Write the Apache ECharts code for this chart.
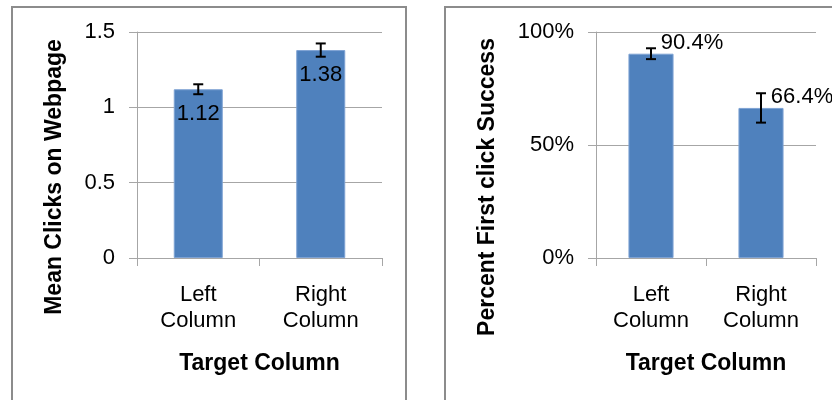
<!DOCTYPE html>
<html>
<head>
<meta charset="utf-8">
<script src="https://cdn.jsdelivr.net/npm/echarts@6/dist/echarts.min.js"></script>
<style>
html,body{margin:0;padding:0;background:#fff;}
#chart{width:832px;height:400px;}
</style>
</head>
<body>
<div id="chart"></div>
<script>
// ---- data ----
var categories = ['Left\nColumn', 'Right\nColumn'];
var clicksMean = [1.12, 1.38];
var clicksErr = [0.033, 0.044];
var successPct = [90.4, 66.4];
var successErr = [2.4, 6.5];
var clicksAxis = { min: 0, max: 1.5, interval: 0.5 };
var pctAxis = { min: 0, max: 100, interval: 50 };
var clicksTitle = 'Mean Clicks on Webpage';
var pctTitle = 'Percent First click Success';
var xTitle = 'Target Column';

// ---- styles ----
var FONT = '"Liberation Sans", Arial, sans-serif';
var TXT = '#000';
var BAR = '#4f81bd';
var GRID = '#a6a6a6';

function errData(vals, errs) {
  return vals.map(function (v, i) { return [i, v - errs[i], v + errs[i]]; });
}

function errRender(params, api) {
  var x = api.value(0);
  var lo = api.coord([x, api.value(1)]);
  var hi = api.coord([x, api.value(2)]);
  var half = 5;
  var st = { stroke: '#000', lineWidth: 2 };
  return {
    type: 'group',
    children: [
      { type: 'line', shape: { x1: hi[0], y1: hi[1], x2: lo[0], y2: lo[1] }, style: st },
      { type: 'line', shape: { x1: hi[0] - half, y1: hi[1], x2: hi[0] + half, y2: hi[1] }, style: st },
      { type: 'line', shape: { x1: lo[0] - half, y1: lo[1], x2: lo[0] + half, y2: lo[1] }, style: st }
    ]
  };
}

function xAxisCfg(gi) {
  return {
    type: 'category', gridIndex: gi, data: categories,
    name: xTitle, nameLocation: 'middle', nameGap: 94,
    nameTextStyle: { fontFamily: FONT, fontSize: 23, fontWeight: 'bold', color: TXT },
    axisLine: { lineStyle: { color: GRID, width: 1 } },
    axisTick: { show: true, length: 8, lineStyle: { color: GRID } },
    axisLabel: { fontFamily: FONT, fontSize: 22, color: TXT, margin: 24, lineHeight: 26 },
    splitLine: { show: false }
  };
}

function yAxisCfg(gi, ax, fmt) {
  return {
    type: 'value', gridIndex: gi, min: ax.min, max: ax.max, interval: ax.interval,
    axisLine: { show: true, lineStyle: { color: GRID, width: 1 } },
    axisTick: { show: true, length: 8, lineStyle: { color: GRID } },
    axisLabel: { fontFamily: FONT, fontSize: 22, color: TXT, margin: 22, formatter: fmt },
    splitLine: { show: true, lineStyle: { color: GRID, width: 1 } }
  };
}

var chart = echarts.init(document.getElementById('chart'), null, { renderer: 'canvas' });
chart.setOption({
  animation: false,
  backgroundColor: '#fff',
  grid: [
    { left: 137, right: 450, top: 32, bottom: 142 },
    { left: 596, right: 16, top: 32, bottom: 142 }
  ],
  xAxis: [xAxisCfg(0), xAxisCfg(1)],
  yAxis: [
    yAxisCfg(0, clicksAxis, function (v) { return String(v); }),
    yAxisCfg(1, pctAxis, function (v) { return v + '%'; })
  ],
  graphic: [
    { type: 'rect', shape: { x: 12, y: 7, width: 394, height: 400 }, style: { fill: 'none', stroke: '#8c8c8c', lineWidth: 2 }, z: -1 },
    { type: 'rect', shape: { x: 445, y: 7, width: 400, height: 400 }, style: { fill: 'none', stroke: '#8c8c8c', lineWidth: 2 }, z: -1 },
    { type: 'text', x: 55, y: 177, rotation: Math.PI / 2,
      style: { text: clicksTitle, fontFamily: FONT, fontSize: 23, fontWeight: 'bold', fill: TXT, textAlign: 'center', textVerticalAlign: 'middle' } },
    { type: 'text', x: 488, y: 187, rotation: Math.PI / 2,
      style: { text: pctTitle, fontFamily: FONT, fontSize: 23, fontWeight: 'bold', fill: TXT, textAlign: 'center', textVerticalAlign: 'middle' } }
  ],
  series: [
    {
      type: 'bar', xAxisIndex: 0, yAxisIndex: 0, data: clicksMean, barWidth: '40%',
      itemStyle: { color: BAR, borderColor: '#7ea2d3', borderWidth: 1 },
      label: { show: true, position: 'insideTop', distance: 14, fontFamily: FONT, fontSize: 22, color: TXT,
        formatter: function (p) { return p.value.toFixed(2); } }
    },
    {
      type: 'custom', xAxisIndex: 0, yAxisIndex: 0, data: errData(clicksMean, clicksErr),
      renderItem: errRender, z: 5
    },
    {
      type: 'bar', xAxisIndex: 1, yAxisIndex: 1, data: successPct, barWidth: '41%',
      itemStyle: { color: BAR, borderColor: '#7ea2d3', borderWidth: 1 },
      label: { show: true, position: 'top', distance: 0, offset: [41, 0], fontFamily: FONT, fontSize: 22, color: TXT,
        formatter: function (p) { return p.value.toFixed(1) + '%'; } }
    },
    {
      type: 'custom', xAxisIndex: 1, yAxisIndex: 1, data: errData(successPct, successErr),
      renderItem: errRender, z: 5
    }
  ]
});
</script>
</body>
</html>
